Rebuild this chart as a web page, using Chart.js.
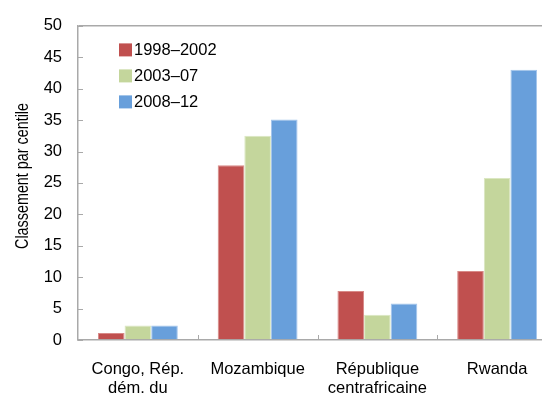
<!DOCTYPE html>
<html>
<head>
<meta charset="utf-8">
<script src="https://cdn.jsdelivr.net/npm/chart.js@4.4.1/dist/chart.umd.min.js"></script>
<style>
  html, body { margin: 0; padding: 0; background: #fff; overflow: hidden; }
  #wrap { position: relative; width: 600px; height: 394px; }
</style>
</head>
<body>
<div id="wrap"><canvas id="bar-chart" width="600" height="394"></canvas></div>
<script>
var countries = [["Congo, Rép.", "dém. du"], "Mozambique", ["République", "centrafricaine"], "Rwanda"];
var periods = ["1998–2002", "2003–07", "2008–12"];
var v1998 = [1.1, 27.8, 7.8, 11.0];
var v2003 = [2.3, 32.5, 4.0, 25.8];
var v2008 = [2.3, 35.1, 5.8, 43.0];
var yTicks = [0, 5, 10, 15, 20, 25, 30, 35, 40, 45, 50];
var yTitle = "Classement par centile";

var fills = ["#c0504f", "#c4d69c", "#689fdb"];
var edges = ["#d88a88", "#dbe7c2", "#a4c5ec"];
var axisGray = "#a9a9a9";

// legend drawn inside the plot, top left
var innerLegend = {
    id: "innerLegend",
    afterDraw: function (chart) {
        var c = chart.ctx, a = chart.chartArea;
        c.save();
        c.font = "16.5px 'Liberation Sans', Arial, sans-serif";
        c.textBaseline = "middle";
        chart.data.datasets.forEach(function (ds, i) {
            var y = a.top + 24 + i * 26;
            c.fillStyle = ds.backgroundColor;
            c.fillRect(a.left + 41, y - 6.5, 13, 13);
            c.fillStyle = "#000";
            c.fillText(ds.label, a.left + 56, y + 1);
        });
        c.restore();
    }
};

// condensed vertical axis title (no narrow font installed)
var narrowTitle = {
    id: "narrowTitle",
    afterDraw: function (chart) {
        var c = chart.ctx, a = chart.chartArea;
        c.save();
        c.translate(23, (a.top + a.bottom) / 2 - 7);
        c.rotate(-Math.PI / 2);
        c.scale(0.82, 1);
        c.font = "17.5px 'Liberation Sans', Arial, sans-serif";
        c.fillStyle = "#000";
        c.textAlign = "center";
        c.textBaseline = "middle";
        c.fillText(yTitle, 0, 0);
        c.restore();
    }
};

// small tick marks pointing into the plot
var innerTicks = {
    id: "innerTicks",
    afterDraw: function (chart) {
        var c = chart.ctx, a = chart.chartArea;
        var ys = chart.scales.y, xs = chart.scales.x;
        var step = xs.getPixelForValue(1) - xs.getPixelForValue(0);
        c.save();
        c.strokeStyle = axisGray;
        c.lineWidth = 1;
        c.beginPath();
        yTicks.forEach(function (t) {
            var p = Math.round(ys.getPixelForValue(t)) + 0.5;
            c.moveTo(a.left, p);
            c.lineTo(a.left + 5, p);
        });
        for (var i = 0; i < countries.length; i++) {
            var x = Math.round(xs.getPixelForValue(i) + step / 2) + 0.5;
            c.moveTo(x, a.bottom);
            c.lineTo(x, a.bottom - 5);
        }
        c.stroke();
        c.restore();
    }
};

var ctx1 = document.getElementById("bar-chart");

var data1 = {
    labels: countries,
    datasets: [
        { label: periods[0], data: v1998, backgroundColor: fills[0], borderColor: edges[0], borderWidth: 1 },
        { label: periods[1], data: v2003, backgroundColor: fills[1], borderColor: edges[1], borderWidth: 1 },
        { label: periods[2], data: v2008, backgroundColor: fills[2], borderColor: edges[2], borderWidth: 1 }
    ]
};

var options = {
    responsive: false,
    animation: false,
    layout: { padding: { top: 21, right: 43, left: 0, bottom: 0 } },
    plugins: {
        legend: { display: false },
        tooltip: { enabled: false }
    },
    datasets: { bar: { categoryPercentage: 0.667, barPercentage: 1.0 } },
    scales: {
        x: {
            grid: { display: false },
            border: { color: axisGray, width: 1.5 },
            ticks: {
                color: "#000",
                padding: 12,
                maxRotation: 0,
                autoSkip: false,
                font: { family: "'Liberation Sans', Arial, sans-serif", size: 16.5, lineHeight: 1.15 }
            },
            afterFit: function (s) { s.height = 54; }
        },
        y: {
            min: 0,
            max: 50,
            afterBuildTicks: function (s) { s.ticks = yTicks.map(function (v) { return { value: v }; }); },
            grid: {
                drawTicks: false,
                color: function (c) { return c.tick && c.tick.value === 50 ? axisGray : "rgba(0,0,0,0)"; },
                lineWidth: 1.5
            },
            border: { color: axisGray, width: 1.5 },
            ticks: {
                color: "#000",
                padding: 16,
                autoSkip: false,
                font: { family: "'Liberation Sans', Arial, sans-serif", size: 16.5 }
            },
            title: { display: false },
            afterFit: function (s) { s.width = 78; }
        }
    }
};

var chart1 = new Chart(ctx1, {
    type: "bar",
    data: data1,
    options: options,
    plugins: [innerLegend, innerTicks, narrowTitle]
});
</script>
</body>
</html>
